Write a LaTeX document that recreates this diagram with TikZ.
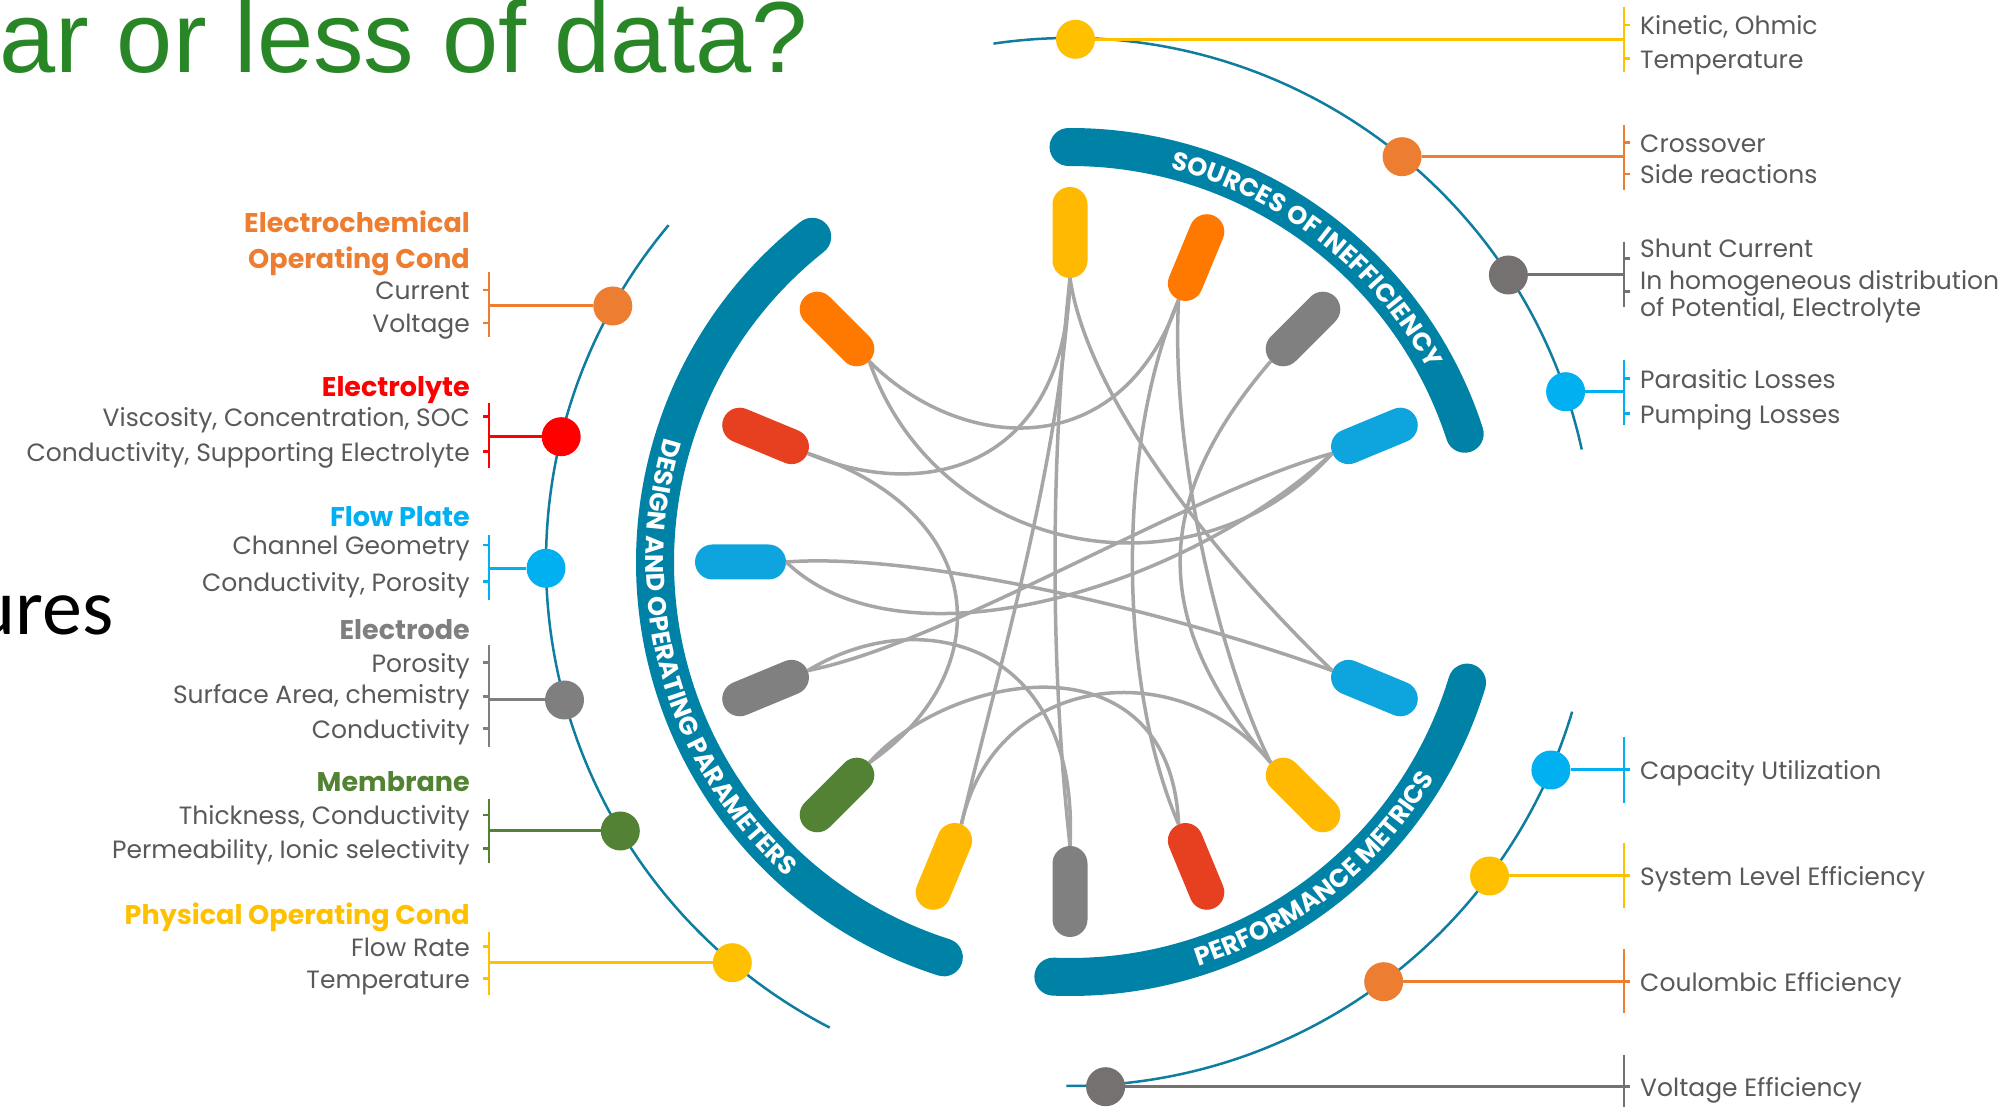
\documentclass[tikz,border=0pt]{standalone}
\usepackage{fontspec}
\setmainfont{Poppins}
\newfontfamily\fPop{Poppins}
\newfontfamily\fArl{Liberation Sans}
\newfontfamily\fCal{Carlito}
\usetikzlibrary{decorations.text}
\definecolor{band}{RGB}{0,130,166}
\definecolor{thin}{RGB}{14,125,160}
\definecolor{lnk}{RGB}{166,166,166}
\definecolor{ttl}{RGB}{41,134,39}
\definecolor{lbl}{RGB}{89,89,89}
\definecolor{cOr}{RGB}{237,125,49}
\definecolor{cRd}{RGB}{255,0,0}
\definecolor{cBl}{RGB}{0,176,240}
\definecolor{cGy}{RGB}{127,127,127}
\definecolor{cDg}{RGB}{118,113,113}
\definecolor{cGn}{RGB}{84,130,53}
\definecolor{cYl}{RGB}{255,192,0}
\definecolor{pYl}{RGB}{255,185,0}
\definecolor{pOr}{RGB}{255,120,0}
\definecolor{pGy}{RGB}{128,128,128}
\definecolor{pBl}{RGB}{14,165,223}
\definecolor{pRd}{RGB}{230,64,32}
\definecolor{pGn}{RGB}{84,130,53}
\newcommand\bandfont{\fPop\bfseries\fontsize{25.5}{25.5}\selectfont\color{white}}
\begin{document}
\begin{tikzpicture}[x=1pt,y=1pt,
  lab/.style={font=\fPop\fontsize{25}{30}\selectfont, text=lbl, inner sep=0pt, yshift=-7pt},
  grp/.style={font=\fPop\bfseries\fontsize{27}{30}\selectfont, inner sep=0pt, yshift=-7pt},
  pill/.style={rectangle, rounded corners=17.5pt, minimum width=91pt, minimum height=35pt, inner sep=0pt},
  dot/.style={circle, minimum size=39pt, inner sep=0pt},
  link/.style={draw=lnk, line width=3.5pt},
  thinarc/.style={draw=thin, line width=2.5pt},
  bandarc/.style={draw=band, line width=38pt, line cap=round},
  br/.style={line width=2.5pt},
  hl/.style={line width=3pt}]
\useasboundingbox (0,0) rectangle (2003,1106);
\clip (0,0) rectangle (2003,1106);

% title fragments
\node[anchor=base west, inner sep=0pt, text=ttl, font=\fArl\fontsize{101}{101}\selectfont] (title) at (-1,1033) {ar or less of data?};
\node[anchor=base east, inner sep=0pt, font=\fCal\fontsize{80}{80}\selectfont] (ures) at (114,471) {ures};

\begin{scope}[shift={(1070,544)}]
  % thick bands
  \draw[bandarc] (128.4:415) arc[start angle=128.4, end angle=252.3, radius=415];
  \draw[bandarc] (90.2:415) arc[start angle=90.2, end angle=18, radius=415];
  \draw[bandarc] (-16.9:415) arc[start angle=-16.9, end angle=-92.3, radius=415];
  \path[decorate, decoration={text along path, text align=center, text={|\bandfont|SOURCES OF INEFFICIENCY}}]
    (90:406) arc[start angle=90, end angle=14, radius=406];
  \path[decorate, decoration={text along path, text align=center, text={|\bandfont|DESIGN AND OPERATING PARAMETERS}}]
    (145:424) arc[start angle=145, end angle=246, radius=424];
  \path[decorate, decoration={text along path, text align=center, text={|\bandfont|PERFORMANCE METRICS}}]
    (-90:424) arc[start angle=-90, end angle=-13, radius=424];
  % thin outer arcs
  \draw[thinarc] (140:524) arc[start angle=140, end angle=242.7, radius=524];
  \draw[thinarc] (98.4:524) arc[start angle=98.4, end angle=12.4, radius=524];
  \draw[thinarc] (-16.6:524) arc[start angle=-16.6, end angle=-90.4, radius=524];
  % pills
  \foreach \ang/\col/\nm in {90/pYl/p90,67.5/pOr/p67,45/pGy/p45,22.5/pBl/p22,-22.5/pBl/p337,-45/pYl/p315,-67.5/pRd/p292,-90/pGy/p270,-112.5/pYl/p247,-135/pGn/p225,-157.5/pGy/p202,180/pBl/p180,157.5/pRd/p157,135/pOr/p135}
    \node[pill, fill=\col, rotate=\ang] (\nm) at (\ang:329.5) {};
  % links
  \draw[link] (p135.west) .. controls (-110,110) and (50,95) .. (p67.west);
  \draw[link] (p135.west) .. controls (-130,0) and (130,-40) .. (p22.west);
  \draw[link] (p157.west) .. controls (-150,60) and (-5,90) .. (p90.west);
  \draw[link] (p157.west) .. controls (-80,50) and (-70,-110) .. (p225.west);
  \draw[link] (p90.west) .. controls (-10,100) and (-70,-100) .. (p247.west);
  \draw[link] (p90.west) .. controls (-20,100) and (-20,-100) .. (p270.west);
  \draw[link] (p90.west) .. controls (20,150) and (170,-20) .. (p337.west);
  \draw[link] (p67.west) .. controls (47,120) and (47,-120) .. (p292.west);
  \draw[link] (p67.west) .. controls (100,110) and (150,-100) .. (p315.west);
  \draw[link] (p45.west) .. controls (80,60) and (80,-60) .. (p315.west);
  \draw[link] (p180.west) .. controls (-170,-110) and (110,-30) .. (p22.west);
  \draw[link] (p180.west) .. controls (-150,10) and (100,-50) .. (p337.west);
  \draw[link] (p202.west) .. controls (-120,-80) and (120,70) .. (p22.west);
  \draw[link] (p202.west) .. controls (-150,-40) and (10,-80) .. (p270.west);
  \draw[link] (p225.west) .. controls (-120,-110) and (100,-70) .. (p292.west);
  \draw[link] (p247.west) .. controls (-75,-110) and (110,-90) .. (p315.west);
\end{scope}

% ---------- left groups ----------
% G1 Electrochemical
\node[grp, text=cOr, anchor=mid east] (g1a) at (470,883) {Electrochemical};
\node[grp, text=cOr, anchor=mid east] (g1b) at (470,847) {Operating Cond};
\node[lab, anchor=mid east] (g1c) at (470,816) {Current};
\node[lab, anchor=mid east] (g1d) at (470,783) {Voltage};
\draw[br, cOr] (489,834.3) -- (489,769.3) (483,816) -- (489,816) (483,783) -- (489,783);
\node[dot, fill=cOr] (d1) at (612.8,800) {};
\coordinate (b1) at (489,800);
\draw[hl, cOr] (d1) -- (b1);
% G2 Electrolyte
\node[grp, text=cRd, anchor=mid east] (g2a) at (470,719.3) {Electrolyte};
\node[lab, anchor=mid east] (g2b) at (470,689.3) {Viscosity, Concentration, SOC};
\node[lab, anchor=mid east] (g2c) at (470,654.3) {Conductivity, Supporting Electrolyte};
\draw[br, cRd] (489,703) -- (489,638) (483,689.3) -- (489,689.3) (483,654.3) -- (489,654.3);
\node[dot, fill=cRd] (d2) at (561.2,669.3) {};
\coordinate (b2) at (489,669.3);
\draw[hl, cRd] (d2) -- (b2);
% G3 Flow Plate
\node[grp, text=cBl, anchor=mid east] (g3a) at (470,589.3) {Flow Plate};
\node[lab, anchor=mid east] (g3b) at (470,561) {Channel Geometry};
\node[lab, anchor=mid east] (g3c) at (470,524.3) {Conductivity, Porosity};
\draw[br, cBl] (489,571) -- (489,506) (483,561) -- (489,561) (483,524.3) -- (489,524.3);
\node[dot, fill=cBl] (d3) at (546,537.7) {};
\coordinate (b3) at (489,537.7);
\draw[hl, cBl] (d3) -- (b3);
% G4 Electrode
\node[grp, text=cGy, anchor=mid east] (g4a) at (470,476) {Electrode};
\node[lab, anchor=mid east] (g4b) at (470,443.7) {Porosity};
\node[lab, anchor=mid east] (g4c) at (470,412.7) {Surface Area, chemistry};
\node[lab, anchor=mid east] (g4d) at (470,377.7) {Conductivity};
\draw[br, cGy] (489,461) -- (489,359.3) (483,443.7) -- (489,443.7) (483,409.3) -- (489,409.3) (483,377.7) -- (489,377.7);
\node[dot, fill=cGy] (d4) at (564.5,406) {};
\coordinate (b4) at (489,406);
\draw[hl, cGy] (d4) -- (b4);
% G5 Membrane
\node[grp, text=cGn, anchor=mid east] (g5a) at (470,324.3) {Membrane};
\node[lab, anchor=mid east] (g5b) at (470,291) {Thickness, Conductivity};
\node[lab, anchor=mid east] (g5c) at (470,257.7) {Permeability, Ionic selectivity};
\draw[br, cGn] (489,307) -- (489,243) (483,291) -- (489,291) (483,257.7) -- (489,257.7);
\node[dot, fill=cGn] (d5) at (620.3,275) {};
\coordinate (b5) at (489,275);
\draw[hl, cGn] (d5) -- (b5);
% G6 Physical
\node[grp, text=cYl, anchor=mid east] (g6a) at (470,191) {Physical Operating Cond};
\node[lab, anchor=mid east] (g6b) at (470,159.3) {Flow Rate};
\node[lab, anchor=mid east] (g6c) at (470,127.7) {Temperature};
\draw[br, cYl] (489,174.3) -- (489,111) (483,159.3) -- (489,159.3) (483,127.7) -- (489,127.7);
\node[dot, fill=cYl] (d6) at (732.3,143.3) {};
\coordinate (b6) at (489,143.3);
\draw[hl, cYl] (d6) -- (b6);

% ---------- right upper groups ----------
\node[lab, anchor=mid west] (u1a) at (1640,1081) {Kinetic, Ohmic};
\node[lab, anchor=mid west] (u1b) at (1640,1047.7) {Temperature};
\draw[br, cYl] (1624,1099.3) -- (1624,1034.3) (1624,1081) -- (1630,1081) (1624,1047.7) -- (1630,1047.7);
\node[dot, fill=cYl] (e1) at (1075.5,1066.7) {};
\coordinate (c1) at (1624,1066.7);
\draw[hl, cYl] (e1) -- (c1);

\node[lab, anchor=mid west] (u2a) at (1640,963.3) {Crossover};
\node[lab, anchor=mid west] (u2b) at (1640,932) {Side reactions};
\draw[br, cOr] (1624,981) -- (1624,916) (1624,963.3) -- (1630,963.3) (1624,932) -- (1630,932);
\node[dot, fill=cOr] (e2) at (1402.1,949.3) {};
\coordinate (c2) at (1624,949.3);
\draw[hl, cOr] (e2) -- (c2);

\node[lab, anchor=mid west] (u3a) at (1640,858.7) {Shunt Current};
\node[lab, anchor=mid west] (u3b) at (1640,826) {In homogeneous distribution};
\node[lab, anchor=mid west] (u3c) at (1640,799.3) {of Potential, Electrolyte};
\draw[br, cDg] (1624,864.3) -- (1624,799.3) (1624,847.3) -- (1630,847.3) (1624,814.7) -- (1630,814.7);
\node[dot, fill=cDg] (e3) at (1508.4,831) {};
\coordinate (c3) at (1624,831);
\draw[hl, cDg] (e3) -- (c3);

\node[lab, anchor=mid west] (u4a) at (1640,727.7) {Parasitic Losses};
\node[lab, anchor=mid west] (u4b) at (1640,692.7) {Pumping Losses};
\draw[br, cBl] (1624,746) -- (1624,681) (1624,727.7) -- (1630,727.7) (1624,692.7) -- (1630,692.7);
\node[dot, fill=cBl] (e4) at (1565.6,714.3) {};
\coordinate (c4) at (1624,714.3);
\draw[hl, cBl] (e4) -- (c4);

% ---------- right lower groups ----------
\node[lab, anchor=mid west] (l1a) at (1640,336) {Capacity Utilization};
\draw[br, cBl] (1624,369) -- (1624,303);
\node[dot, fill=cBl] (f1) at (1550.9,336) {};
\coordinate (h1) at (1630,336);
\draw[hl, cBl] (f1) -- (h1);

\node[lab, anchor=mid west] (l2a) at (1640,230) {System Level Efficiency};
\draw[br, cYl] (1624,263) -- (1624,198);
\node[dot, fill=cYl] (f2) at (1489.5,230) {};
\coordinate (h2) at (1630,230);
\draw[hl, cYl] (f2) -- (h2);

\node[lab, anchor=mid west] (l3a) at (1640,124.3) {Coulombic Efficiency};
\draw[br, cOr] (1624,157) -- (1624,93);
\node[dot, fill=cOr] (f3) at (1383.7,124.3) {};
\coordinate (h3) at (1630,124.3);
\draw[hl, cOr] (f3) -- (h3);

\node[lab, anchor=mid west] (l4a) at (1640,19.3) {Voltage Efficiency};
\draw[br, cDg] (1624,51) -- (1624,-10);
\node[dot, fill=cDg] (f4) at (1105.6,19.3) {};
\coordinate (h4) at (1630,19.3);
\draw[hl, cDg] (f4) -- (h4);
\end{tikzpicture}
\end{document}
